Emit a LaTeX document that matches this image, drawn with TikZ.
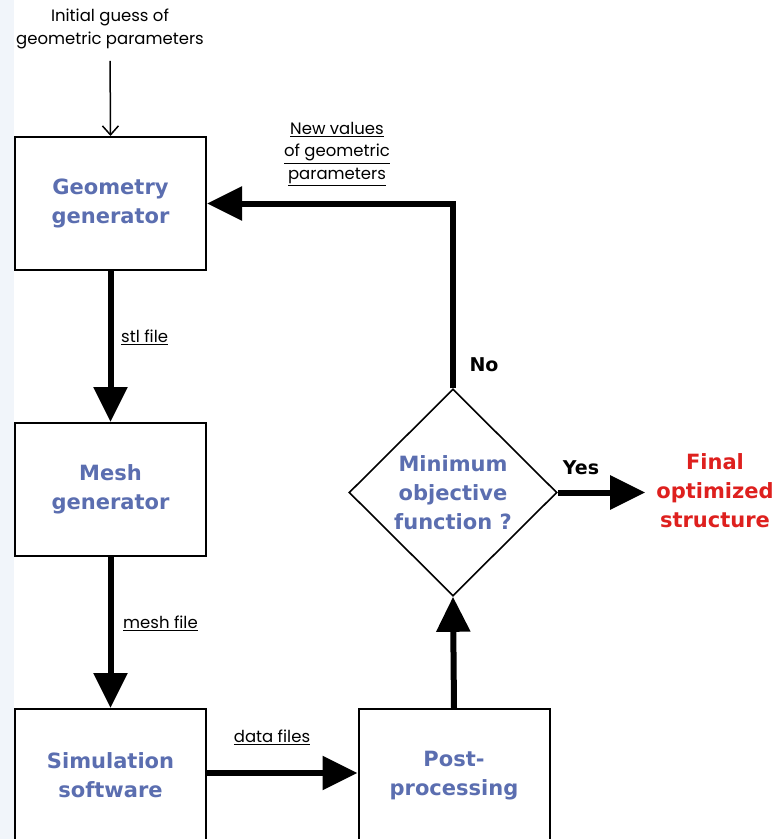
\documentclass[tikz,border=0pt]{standalone}
\usepackage{fontspec}
\setmainfont{DejaVu Sans}
\newfontfamily\labelfont{Poppins}
\usetikzlibrary{arrows.meta,shapes.geometric}

\definecolor{boxblue}{RGB}{91,110,176}
\definecolor{finalred}{RGB}{222,32,30}
\definecolor{stripblue}{RGB}{241,245,250}

\tikzset{
  procbox/.style={draw=black, line width=2pt, minimum width=191pt, minimum height=133pt,
    inner sep=0pt, align=center, text=boxblue, font=\bfseries\fontsize{21}{29}\selectfont},
  decision/.style={draw=black, line width=1.6pt, diamond, aspect=1, minimum width=208pt,
    minimum height=207pt, inner sep=0pt, align=center, text=boxblue,
    font=\bfseries\fontsize{21}{29}\selectfont},
  flow/.style={line width=6pt, -{Triangle[length=35pt,width=33pt]}},
  thinflow/.style={line width=1.5pt, -{Straight Barb[length=9pt,width=16pt]}},
  edgelabel/.style={font=\labelfont\fontsize{16.5}{22.5}\selectfont, inner sep=0pt, align=center},
  answer/.style={font=\bfseries\fontsize{19}{22}\selectfont, inner sep=0pt},
  result/.style={font=\bfseries\fontsize{21}{29}\selectfont, text=finalred, align=center, inner sep=0pt}
}

\begin{document}
\begin{tikzpicture}[x=1pt,y=-1pt]
  \useasboundingbox (0,0) rectangle (778,839);
  \fill[white] (0,0) rectangle (778,839);
  \fill[stripblue] (0,0) rectangle (14,839);

  % process boxes
  \node[procbox] (geo)  at (110.5,203.5) {Geometry\\generator};
  \node[procbox] (mesh) at (110.5,489.5) {Mesh\\generator};
  \node[procbox] (sim)  at (110.5,775.5) {Simulation\\software};
  \node[procbox] (post) at (454,775.5)   {Post-\\processing};

  % decision
  \node[decision] (dec) at (453,492.5) {Minimum\\objective\\function ?};

  % free texts
  \node[edgelabel] (init) at (110,29) {Initial guess of\\geometric parameters};
  \node[result] (final) at (715,491) {Final\\optimized\\structure};

  % connectors
  \draw[thinflow, shorten <=12pt] (init.south) -- (geo.north);
  \draw[flow] (geo.south) -- (mesh.north);
  \draw[flow] (mesh.south) -- (sim.north);
  \draw[flow] (sim.east |- 0,773) -- (post.west |- 0,773);
  \draw[flow] (post.north) -- (dec.south);
  \draw[flow] (dec.north) |- (geo.east);
  \draw[flow, shorten >=11pt] (dec.east) -- (final.west |- dec.east);

  % connector labels
  \node[edgelabel, anchor=west] (stl) at (121,337) {\underline{stl file}};
  \node[edgelabel, anchor=west] (meshf) at (123,623) {\underline{mesh file}};
  \node[edgelabel] (data) at (272,737) {\underline{data files}};
  \node[edgelabel] (newv) at (337,154) {\underline{New values}\\\underline{of geometric}\\\underline{parameters}};
  \node[answer] (no) at (484,365) {No};
  \node[answer] (yes) at (581,468) {Yes};
\end{tikzpicture}
\end{document}
